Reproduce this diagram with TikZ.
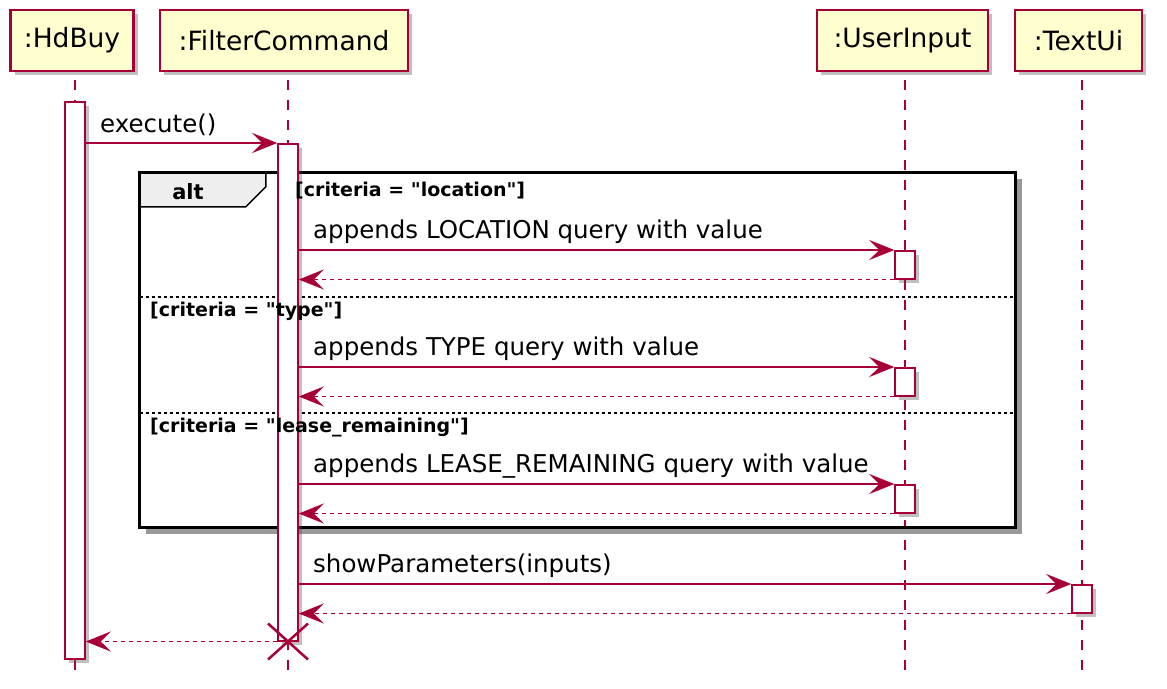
\documentclass[tikz,border=0pt]{standalone}
\usepackage{fontspec}
\setmainfont{DejaVu Sans}[Ligatures=TeXOff]
\usetikzlibrary{arrows.meta,shadows,calc}
\definecolor{pu}{HTML}{A80036}
\definecolor{pubg}{HTML}{FEFECE}
\definecolor{tabbg}{HTML}{EEEEEE}
\tikzset{
  psh/.style={drop shadow={shadow xshift=4pt,shadow yshift=-4pt,opacity=0.35,fill=black!70}},
  part/.style={draw=pu,line width=2.3pt,fill=pubg,minimum height=61pt,inner sep=0pt,font=\fontsize{26.5}{30}\selectfont,psh},
  act/.style={draw=pu,line width=1.5pt,fill=white,minimum width=20pt,inner sep=0pt,anchor=north,psh},
  life/.style={draw=pu,line width=1.5pt,dash pattern=on 10pt off 10pt},
  msg/.style={draw=pu,line width=1.5pt,-{Stealth[length=25pt,width=20pt,inset=10pt]}},
  ret/.style={draw=pu,line width=1.5pt,dash pattern=on 4pt off 4pt,-{Stealth[length=25pt,width=20pt,inset=10pt]}},
  mlab/.style={font=\fontsize{24.5}{28}\selectfont,anchor=west,inner sep=0pt},
  glab/.style={font=\bfseries\fontsize{19}{22}\selectfont,anchor=west,inner sep=0pt},
}
\begin{document}
\begin{tikzpicture}[x=1pt,y=-1pt]
\useasboundingbox[fill=white] (0,0) rectangle (1167,688);
% participants
\node[part,minimum width=123pt] (p1) at (72,40.5) {:HdBuy};
\node[part,minimum width=248pt] (p2) at (284,40.5) {:FilterCommand};
\node[part,minimum width=171pt] (p3) at (902.5,40.5) {:UserInput};
\node[part,minimum width=127pt] (p4) at (1078.5,40.5) {:TextUi};
\coordinate (top) at (0,80);
\coordinate (bot) at (0,670);
\coordinate (l1) at (75,0);
\coordinate (l2) at (288,0);
\coordinate (l3) at (905,0);
\coordinate (l4) at (1082,0);
% lifelines
\draw[life] (l1 |- top) -- (l1 |- bot);
\draw[life] (l2 |- top) -- (l2 |- bot);
\draw[life] (l3 |- top) -- (l3 |- bot);
\draw[life] (l4 |- top) -- (l4 |- bot);
% alt frame
\node[minimum width=875pt,minimum height=354pt,inner sep=0pt] (frame) at (577.5,350) {};
\draw[black!40,line width=5pt] ($(frame.north east)+(4.5,6)$) -- ($(frame.south east)+(4.5,4.5)$) -- ($(frame.south west)+(6,4.5)$);
\draw[fill=tabbg,line width=1.5pt] (frame.north west) -- ++(126,0) -- ++(0,14) -- ++(-20,20) -- ($(frame.north west)+(0,34)$) -- cycle;
\draw[line width=3pt] (frame.north west) rectangle (frame.south east);
\coordinate (s1) at (0,297);
\coordinate (s2) at (0,413);
\draw[line width=1.3pt,dash pattern=on 3pt off 3pt] (frame.west |- s1) -- (frame.east |- s1);
\draw[line width=1.3pt,dash pattern=on 3pt off 3pt] (frame.west |- s2) -- (frame.east |- s2);
\node[font=\bfseries\fontsize{21}{24}\selectfont,inner sep=0pt] (alt) at (188,192) {alt};
% activations
\node[act,minimum height=557pt] (a1) at (75,101) {};
\node[act,minimum height=497pt] (a2) at (288,143) {};
\node[act,minimum height=28pt] (u1) at (905,250) {};
\node[act,minimum height=28pt] (u2) at (905,367) {};
\node[act,minimum height=28pt] (u3) at (905,484) {};
\node[act,minimum height=28pt] (t1) at (1082,584) {};
% guards
\node[glab] (g1) at (295,191) {[criteria = "location"]};
\node[glab] (g2) at (150,311) {[criteria = "type"]};
\node[glab] (g3) at (150,428) {[criteria = "lease\_remaining"]};
% messages
\draw[msg] (a1.east |- a2.north) -- (a2.north west);
\node[mlab] (m1) at (100,125) {execute()};
\draw[msg] (a2.east |- u1.north) -- (u1.north west);
\draw[ret] (u1.south west) -- (a2.east |- u1.south);
\node[mlab] (m2) at (313,232) {appends LOCATION query with value};
\draw[msg] (a2.east |- u2.north) -- (u2.north west);
\draw[ret] (u2.south west) -- (a2.east |- u2.south);
\node[mlab] (m3) at (313,349) {appends TYPE query with value};
\draw[msg] (a2.east |- u3.north) -- (u3.north west);
\draw[ret] (u3.south west) -- (a2.east |- u3.south);
\node[mlab] (m4) at (313,466) {appends LEASE\_REMAINING query with value};
\draw[msg] (a2.east |- t1.north) -- (t1.north west);
\draw[ret] (t1.south west) -- (a2.east |- t1.south);
\node[mlab] (m5) at (313,566) {showParameters(inputs)};
\draw[ret] (a2.south west) -- (a1.east |- a2.south);
% destroy
\coordinate (xd) at (a2.south);
\draw[pu,line width=2.5pt] ($(xd)+(-20,-18)$) -- ($(xd)+(20,18)$);
\draw[pu,line width=2.5pt] ($(xd)+(-20,18)$) -- ($(xd)+(20,-18)$);
\end{tikzpicture}
\end{document}
